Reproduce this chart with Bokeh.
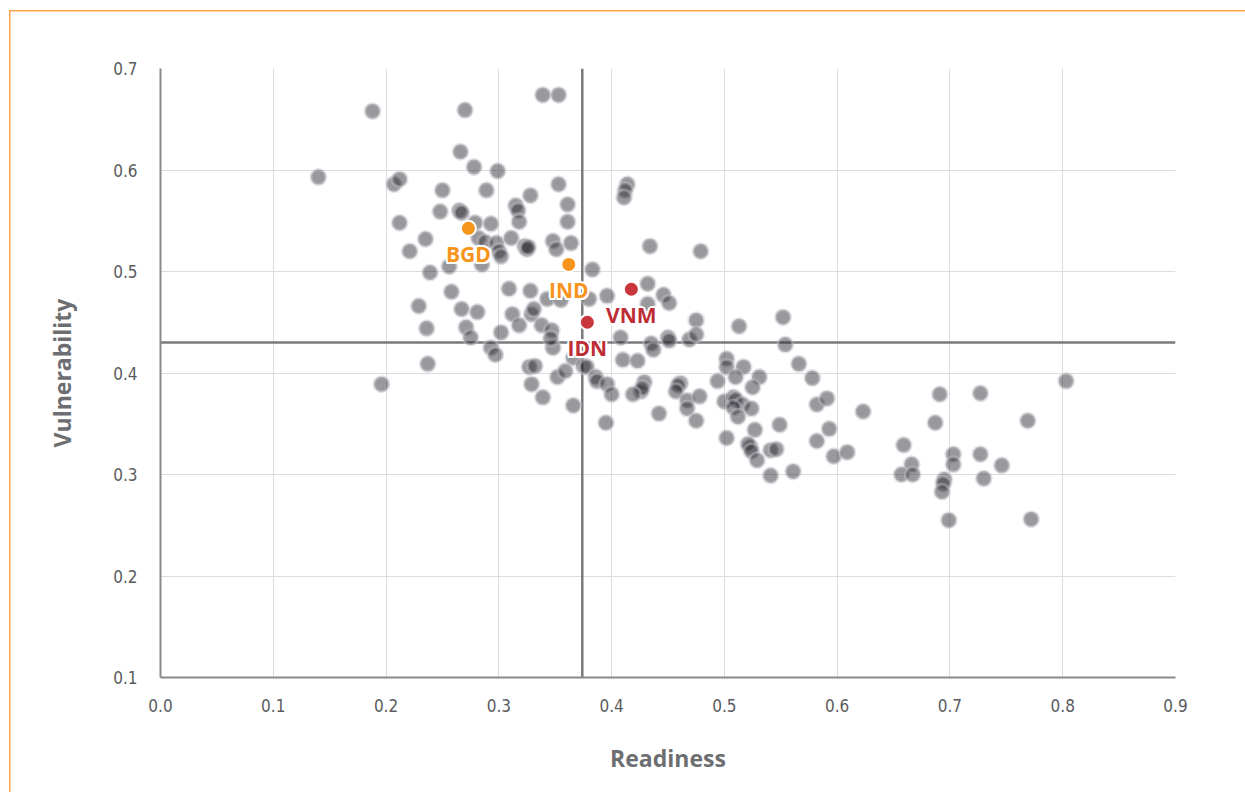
from bokeh.plotting import figure
from bokeh.models import Range1d, FixedTicker, PrintfTickFormatter, ColumnDataSource
from bokeh.core.properties import value
from bokeh.embed import file_html
from bokeh.resources import INLINE

# ---- data ----
readiness = [
    0.140, 0.188, 0.196, 0.207, 0.212, 0.212, 0.221, 0.229, 0.235, 0.236,
    0.237, 0.239, 0.248, 0.250, 0.256, 0.258, 0.266, 0.265, 0.267, 0.267,
    0.270, 0.271, 0.275, 0.278, 0.281, 0.279, 0.285, 0.282, 0.288, 0.298,
    0.300, 0.302, 0.289, 0.293, 0.293, 0.297, 0.299, 0.302, 0.309, 0.311,
    0.315, 0.317, 0.318, 0.312, 0.318, 0.323, 0.325, 0.326, 0.328, 0.328,
    0.329, 0.329, 0.331, 0.327, 0.332, 0.339, 0.339, 0.338, 0.343, 0.347,
    0.348, 0.348, 0.351, 0.353, 0.353, 0.355, 0.352, 0.361, 0.361, 0.364,
    0.366, 0.383, 0.380, 0.396, 0.375, 0.378, 0.386, 0.387, 0.396, 0.400,
    0.366, 0.359, 0.346, 0.414, 0.412, 0.411, 0.434, 0.479, 0.432, 0.446,
    0.451, 0.432, 0.475, 0.513, 0.552, 0.408, 0.435, 0.437, 0.450, 0.451,
    0.469, 0.475, 0.554, 0.410, 0.423, 0.502, 0.502, 0.517, 0.566, 0.578,
    0.510, 0.531, 0.494, 0.525, 0.461, 0.459, 0.457, 0.429, 0.426, 0.427,
    0.419, 0.467, 0.467, 0.478, 0.500, 0.508, 0.510, 0.516, 0.524, 0.508,
    0.512, 0.442, 0.475, 0.395, 0.549, 0.527, 0.502, 0.582, 0.591, 0.623,
    0.593, 0.582, 0.523, 0.521, 0.524, 0.529, 0.541, 0.546, 0.541, 0.561,
    0.597, 0.609, 0.691, 0.727, 0.803, 0.687, 0.769, 0.659, 0.666, 0.657,
    0.667, 0.703, 0.703, 0.727, 0.746, 0.730, 0.695, 0.694, 0.693, 0.699,
    0.772,
]
vulnerability = [
    0.593, 0.658, 0.389, 0.586, 0.591, 0.548, 0.520, 0.466, 0.532, 0.444,
    0.409, 0.499, 0.559, 0.580, 0.505, 0.480, 0.618, 0.560, 0.558, 0.463,
    0.659, 0.445, 0.435, 0.603, 0.460, 0.548, 0.507, 0.533, 0.529, 0.528,
    0.520, 0.515, 0.580, 0.547, 0.425, 0.418, 0.599, 0.440, 0.483, 0.533,
    0.565, 0.560, 0.549, 0.458, 0.447, 0.525, 0.522, 0.524, 0.575, 0.481,
    0.389, 0.458, 0.463, 0.406, 0.407, 0.674, 0.376, 0.447, 0.473, 0.442,
    0.425, 0.530, 0.522, 0.586, 0.674, 0.472, 0.396, 0.566, 0.549, 0.528,
    0.415, 0.502, 0.473, 0.476, 0.407, 0.406, 0.396, 0.392, 0.389, 0.379,
    0.368, 0.402, 0.434, 0.586, 0.580, 0.573, 0.525, 0.520, 0.488, 0.477,
    0.469, 0.468, 0.452, 0.446, 0.455, 0.435, 0.429, 0.423, 0.435, 0.432,
    0.433, 0.438, 0.428, 0.413, 0.412, 0.414, 0.406, 0.406, 0.409, 0.395,
    0.396, 0.396, 0.392, 0.386, 0.390, 0.388, 0.382, 0.391, 0.382, 0.385,
    0.379, 0.373, 0.365, 0.377, 0.372, 0.376, 0.374, 0.369, 0.365, 0.366,
    0.357, 0.360, 0.353, 0.351, 0.349, 0.344, 0.336, 0.369, 0.375, 0.362,
    0.345, 0.333, 0.327, 0.330, 0.323, 0.314, 0.324, 0.325, 0.299, 0.303,
    0.318, 0.322, 0.379, 0.380, 0.392, 0.351, 0.353, 0.329, 0.310, 0.300,
    0.300, 0.320, 0.310, 0.320, 0.309, 0.296, 0.295, 0.291, 0.283, 0.255,
    0.256,
]

hl_codes = ["BGD", "IND", "VNM", "IDN"]
hl_readiness = [0.273, 0.362, 0.4175, 0.3785]
hl_vulnerability = [0.5425, 0.507, 0.4825, 0.450]
hl_group = ["South Asia", "South Asia", "Southeast Asia", "Southeast Asia"]

readiness_mean = 0.374
vulnerability_mean = 0.430

x_ticks = [0.0, 0.1, 0.2, 0.3, 0.4, 0.5, 0.6, 0.7, 0.8, 0.9]
y_ticks = [0.1, 0.2, 0.3, 0.4, 0.5, 0.6, 0.7]

# ---- styles ----
group_color = {"South Asia": "#f7941d", "Southeast Asia": "#c8363c"}
label_color = {"South Asia": "#f7941d", "Southeast Asia": "#be2d36"}
TICK_FONT = "DejaVu Sans Condensed, Liberation Sans Narrow, Roboto"
FRAME = "#f6a64c"

p = figure(width=1245, height=792,
           x_range=Range1d(0, 0.9), y_range=Range1d(0.1, 0.7),
           output_backend="svg", toolbar_location=None,
           min_border_left=160, min_border_right=70,
           min_border_top=68, min_border_bottom=115)
p.outline_line_color = None
p.background_fill_color = "white"
p.border_fill_color = None
# orange page frame (top and left edges visible)
p.styles = {
    "background-color": "white",
    "background-image": f"linear-gradient({FRAME},{FRAME}), linear-gradient({FRAME},{FRAME})",
    "background-size": "1.5px 100%, 100% 1.5px",
    "background-position": "9px 10px, 9px 10px",
    "background-repeat": "no-repeat",
}

for ax in (p.xaxis[0], p.yaxis[0]):
    ax.axis_line_color = "#8a8a8c"
    ax.axis_line_width = 2
    ax.major_tick_line_color = None
    ax.minor_tick_line_color = None
    ax.major_label_text_font = TICK_FONT
    ax.major_label_text_font_size = "17px"
    ax.major_label_text_color = "#5a5b5e"
    ax.axis_label_text_font = "Open Sans"
    ax.axis_label_text_font_style = "bold"
    ax.axis_label_text_font_size = "23px"
    ax.axis_label_text_color = "#6d6e71"
    ax.formatter = PrintfTickFormatter(format="%.1f")

p.xaxis.ticker = FixedTicker(ticks=x_ticks)
p.yaxis.ticker = FixedTicker(ticks=y_ticks)
p.xgrid.ticker = FixedTicker(ticks=x_ticks)
p.ygrid.ticker = FixedTicker(ticks=y_ticks)
p.xaxis.axis_label = "Readiness"
p.yaxis.axis_label = "Vulnerability"
p.xaxis.major_label_standoff = 15
p.xaxis.axis_label_standoff = 27
p.yaxis.major_label_standoff = 17
p.yaxis.axis_label_standoff = 32
p.grid.grid_line_color = "#dcdcdc"
p.grid.grid_line_width = 1

# mean lines
p.line(x=[0, 0.9], y=[vulnerability_mean, vulnerability_mean], line_color="#7a7a7c", line_width=2.5)
p.line(x=[readiness_mean, readiness_mean], y=[0.1, 0.7], line_color="#7a7a7c", line_width=2.5)

# all countries
p.scatter(x=readiness, y=vulnerability, size=15, fill_color="#2a2a30", fill_alpha=0.48,
          line_color="#c4c4cc", line_alpha=0.45, line_width=3)

# highlighted countries
src = ColumnDataSource(dict(x=hl_readiness, y=hl_vulnerability, code=hl_codes,
                            color=[group_color[g] for g in hl_group],
                            tcolor=[label_color[g] for g in hl_group]))
p.scatter(x="x", y="y", source=src, size=15, fill_color="color", line_color="white", line_width=2)

offs = [(-2, 0), (2, 0), (0, -2), (0, 2), (-1.5, -1.5), (1.5, 1.5), (-1.5, 1.5), (1.5, -1.5)]
for dx, dy in offs:
    p.text(x="x", y="y", text="code", source=src, x_offset=dx, y_offset=26 + dy,
           text_align="center", text_baseline="middle", text_color="white",
           text_font=value("Open Sans"), text_font_style="bold", text_font_size="21px")
p.text(x="x", y="y", text="code", source=src, x_offset=0, y_offset=26,
       text_align="center", text_baseline="middle", text_color="tcolor",
       text_font=value("Open Sans"), text_font_style="bold", text_font_size="21px")

open("out.html", "w").write(file_html(p, INLINE))
